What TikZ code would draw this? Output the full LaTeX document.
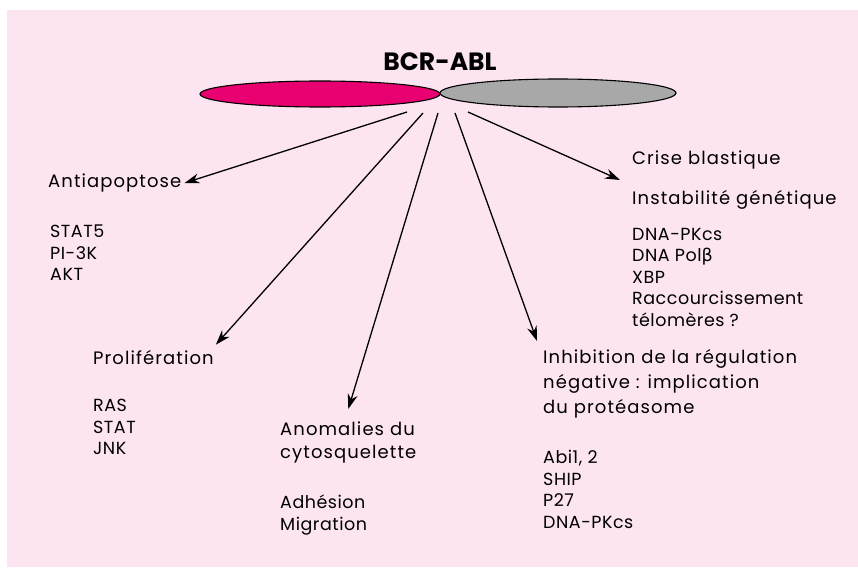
\documentclass[tikz,border=0pt]{standalone}
\usepackage{fontspec}
\setmainfont{Poppins}
\newfontfamily\betafont{DejaVu Sans}
\usetikzlibrary{arrows.meta,calc}
\definecolor{fondrose}{RGB}{252,228,240}
\definecolor{bcrrose}{RGB}{232,0,112}
\definecolor{ablgris}{RGB}{168,168,168}
\tikzset{
  titre/.style={font=\fontsize{18}{21}\selectfont\addfontfeature{LetterSpace=6}, anchor=west, inner sep=0pt},
  liste/.style={font=\fontsize{17.5}{21.5}\selectfont\addfontfeature{LetterSpace=3}, align=left, anchor=north west, inner sep=0pt},
  fleche/.style={-{Stealth[length=15pt,width=10pt]}, line width=1.3pt},
}
\begin{document}
\begin{tikzpicture}[x=1pt,y=-1pt]
                \useasboundingbox (0,0) rectangle (858,567);
                \fill [fondrose] (7,10) rectangle (858,567);
                \draw [fill=bcrrose, line width=1.1pt] (320,94) ellipse [x radius=120pt, y radius=13pt];
                \draw [fill=ablgris, line width=1.1pt] (558,93) ellipse [x radius=118pt, y radius=14pt];
                \node [font=\fontsize{25}{28}\selectfont\bfseries] (bcrabl) at (440,62) {BCR-ABL};

                \node [titre] (antiapo) at (48,183) {Antiapoptose};
                \node [liste] (antiapoliste) at (50,225) {STAT5\\PI-3K\\AKT};
                \node [titre] (prolif) at (93,358) {Prolifération};
                \node [liste] (prolifliste) at (93,399) {RAS\\STAT\\JNK};
                \node [liste, font=\fontsize{18}{23}\selectfont\addfontfeature{LetterSpace=6}] (anomal) at (280,422) {Anomalies du\\cytosquelette};
                \node [liste] (anomalliste) at (280,495) {Adhésion\\Migration};
                \node [liste, font=\fontsize{18}{25}\selectfont\addfontfeature{LetterSpace=6}] (inhib) at (543,349) {Inhibition de la régulation\\négative : implication\\du protéasome};
                \node [liste] (inhibliste) at (543,450) {Abi1, 2\\SHIP\\P27\\DNA-PKcs};
                \node [titre] (crise) at (632,160) {Crise blastique};
                \node [titre] (instab) at (632,200) {Instabilité génétique};
                \node [liste] (instabliste) at (632,228) {DNA-PKcs\\DNA Pol{\betafont β}\\XBP\\Raccourcissement\\télomères ?};

                \coordinate (s1) at (407,112);
                \coordinate (s2) at (423,113);
                \coordinate (s3) at (438,113);
                \coordinate (s4) at (455,113);
                \coordinate (s5) at (468,112);
                \draw [fleche] (s1) -- ([xshift=3pt]antiapo.east);
                \draw [fleche] (s2) -- ([xshift=2pt,yshift=6pt]prolif.north east);
                \draw [fleche] (s3) -- ([yshift=13pt]anomal.north);
                \draw [fleche] (s4) -- ([xshift=-6pt,yshift=8pt]inhib.north west);
                \draw [fleche] (s5) -- ($(crise.west)!.5!(instab.west)+(-12pt,0)$);
\end{tikzpicture}
\end{document}
